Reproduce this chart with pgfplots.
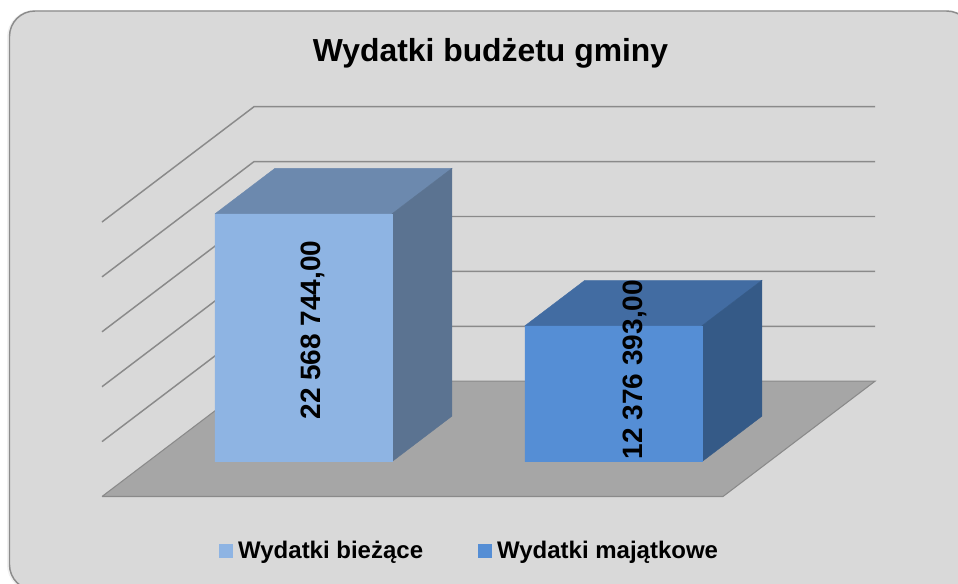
\documentclass[border=0pt]{standalone}
\usepackage{fontspec}
\setmainfont{Liberation Sans}
\usepackage{pgfplots}
\pgfplotsset{compat=1.18}

\definecolor{panel}{HTML}{D9D9D9}
\definecolor{frame}{HTML}{8C8C8C}
\definecolor{gridc}{HTML}{8A8A8A}
\definecolor{floorc}{HTML}{A6A6A6}
\definecolor{aFront}{HTML}{8EB4E3}
\definecolor{aTop}{HTML}{6C89AE}
\definecolor{aSide}{HTML}{5B7391}
\definecolor{bFront}{HTML}{558ED5}
\definecolor{bTop}{HTML}{426CA2}
\definecolor{bSide}{HTML}{355A87}

\begin{document}
% pixel coordinates of the reference, y downwards
\begin{tikzpicture}[x=0.75pt,y=-0.75pt]
\path[use as bounding box,clip] (0,0) rectangle (958,583);
\draw[black!6,line width=3pt,rounded corners=19pt] (9,12) rectangle (972,590);
\draw[frame,fill=panel,line width=1.1pt,rounded corners=19pt] (9.5,11) rectangle (972,590);

\begin{axis}[
    at={(76.5pt,-372.375pt)},anchor=origin,
    x={(0.75pt,0pt)},y={(114pt,86.475pt)},z={(0pt,8.235pt)},
    xmin=0,xmax=621,ymin=0,ymax=1,zmin=0,zmax=25,
    axis lines=none,clip=false,
    legend columns=2,
    legend style={at={(0.476,-0.14)},anchor=center,draw=none,fill=none,
        font=\bfseries\fontsize{18pt}{20pt}\selectfont,
        /tikz/every even column/.style={column sep=39.2pt}},
    legend image code/.code={\fill[#1] (0pt,-4.9pt) rectangle (9.75pt,4.9pt);\path (12pt,0pt);},
]
% walls, one line per 5 million
\addplot3[forget plot,gridc,line width=1.1pt] coordinates {(0,0,25) (0,1,25) (621,1,25)};
\addplot3[forget plot,gridc,line width=1.1pt] coordinates {(0,0,20) (0,1,20) (621,1,20)};
\addplot3[forget plot,gridc,line width=1.1pt] coordinates {(0,0,15) (0,1,15) (621,1,15)};
\addplot3[forget plot,gridc,line width=1.1pt] coordinates {(0,0,10) (0,1,10) (621,1,10)};
\addplot3[forget plot,gridc,line width=1.1pt] coordinates {(0,0,5) (0,1,5) (621,1,5)};
% floor
\addplot3[forget plot,fill=floorc,draw=gridc,line width=0.8pt] coordinates {(0,0,0) (621,0,0) (621,1,0) (0,1,0) (0,0,0)};

% Wydatki biezace
\addplot3[forget plot,fill=aTop,draw=aTop,line width=0.3pt] coordinates {(67,0.302,22.568744) (244,0.302,22.568744) (244,0.697,22.568744) (67,0.697,22.568744) (67,0.302,22.568744)};
\addplot3[forget plot,fill=aSide,draw=aSide,line width=0.3pt] coordinates {(244,0.302,0) (244,0.697,0) (244,0.697,22.568744) (244,0.302,22.568744) (244,0.302,0)};
\addplot3[fill=aFront,draw=aFront,line width=0.3pt] coordinates {(67,0.302,0) (244,0.302,0) (244,0.302,22.568744) (67,0.302,22.568744) (67,0.302,0)};
\addlegendentry{Wydatki bieżące}

% Wydatki majatkowe
\addplot3[forget plot,fill=bTop,draw=bTop,line width=0.3pt] coordinates {(377,0.302,12.376393) (554,0.302,12.376393) (554,0.697,12.376393) (377,0.697,12.376393) (377,0.302,12.376393)};
\addplot3[forget plot,fill=bSide,draw=bSide,line width=0.3pt] coordinates {(554,0.302,0) (554,0.697,0) (554,0.697,12.376393) (554,0.302,12.376393) (554,0.302,0)};
\addplot3[fill=bFront,draw=bFront,line width=0.3pt] coordinates {(377,0.302,0) (554,0.302,0) (554,0.302,12.376393) (377,0.302,12.376393) (377,0.302,0)};
\addlegendentry{Wydatki majątkowe}
\end{axis}

\node[anchor=base,font=\bfseries\fontsize{23.9pt}{28pt}\selectfont] at (490.5,61) {Wydatki budżetu gminy};
\node[rotate=90,font=\bfseries\fontsize{21pt}{24pt}\selectfont] at (313,330) {22 568 744,00};
\node[rotate=90,font=\bfseries\fontsize{21pt}{24pt}\selectfont] at (634.5,369.5) {12 376 393,00};
\end{tikzpicture}
\end{document}
